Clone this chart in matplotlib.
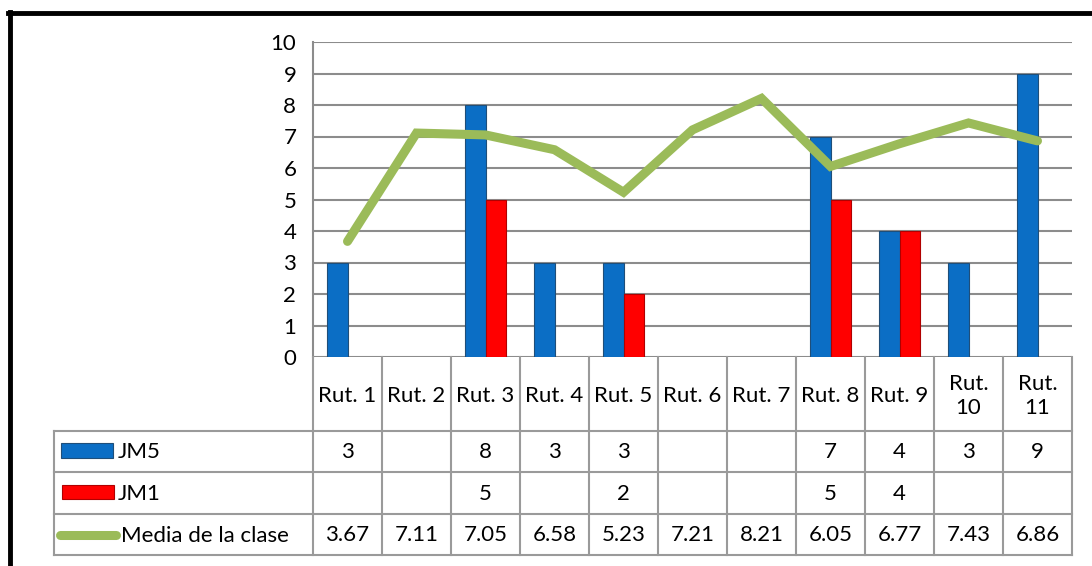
import numpy as np
import matplotlib.pyplot as plt
from matplotlib.lines import Line2D
from matplotlib.patches import Rectangle

categories = ["Rut. 1", "Rut. 2", "Rut. 3", "Rut. 4", "Rut. 5", "Rut. 6",
              "Rut. 7", "Rut. 8", "Rut. 9", "Rut.\n10", "Rut.\n11"]
jm5 = [3, None, 8, 3, 3, None, None, 7, 4, 3, 9]
jm1 = [None, None, 5, None, 2, None, None, 5, 4, None, None]
media = [3.67, 7.11, 7.05, 6.58, 5.23, 7.21, 8.21, 6.05, 6.77, 7.43, 6.86]
series_names = ["JM5", "JM1", "Media de la clase"]
yticks = list(range(0, 11))

plt.rcParams['font.family'] = ['Lato', 'DejaVu Sans']

W, H = 1092, 566
fig = plt.figure(figsize=(W / 100, H / 100), dpi=100)

def px(x0, y0, x1, y1):
    return [x0 / W, 1 - y1 / H, (x1 - x0) / W, (y1 - y0) / H]

blue, blue_edge = "#0B6EC5", "#1F4E79"
red, red_edge = "#FF0000", "#B00000"
green = "#9BBB59"
grid = "#8C8C8C"

# main plot
ax = fig.add_axes(px(313, 42, 1072, 357))
n = len(categories)
x = np.arange(n)
bw = 0.30
for i in range(n):
    if jm5[i] is not None:
        ax.bar(x[i] - bw / 2, jm5[i], bw, color=blue, edgecolor=blue_edge, linewidth=0.8, zorder=3)
    if jm1[i] is not None:
        ax.bar(x[i] + bw / 2, jm1[i], bw, color=red, edgecolor=red_edge, linewidth=0.8, zorder=3)
ax.plot(x, media, color=green, lw=6.5, solid_capstyle='round', solid_joinstyle='miter', zorder=4)
ax.set_xlim(-0.5, n - 0.5)
ax.set_ylim(0, 10)
ax.set_yticks(yticks)
ax.set_yticklabels([str(t) for t in yticks], fontsize=16)
ax.tick_params(axis='y', length=0, pad=12)
ax.set_xticks([])
ax.grid(axis='y', color=grid, lw=1.5, zorder=0)
for s in ['top', 'right', 'bottom']:
    ax.spines[s].set_visible(False)
ax.spines['left'].set_color(grid)
ax.spines['left'].set_linewidth(1.5)

# data table
unit = (1072 - 313) / n
left_col = 313 - 54
tab = fig.add_axes(px(54, 357, 1072, 555))
tab.set_xlim(-0.5 - left_col / unit, n - 0.5)
tab.set_ylim(555, 357)
tab.axis('off')
rows = [357, 431, 472, 514, 555]
lc = "#9A9A9A"
xl = -0.5 - left_col / unit
for r in rows[1:]:
    tab.plot([xl, n - 0.5], [r, r], color=lc, lw=1.5, clip_on=False)
tab.plot([xl, xl], [rows[1], rows[-1]], color=lc, lw=1.5, clip_on=False)
for i in range(n + 1):
    tab.plot([i - 0.5, i - 0.5], [rows[0], rows[-1]], color=lc, lw=1.5, clip_on=False)

fs = 16
for i, c in enumerate(categories):
    tab.text(i, (rows[0] + rows[1]) / 2 + 2, c, ha='center', va='center', fontsize=fs, linespacing=1.3)
    if jm5[i] is not None:
        tab.text(i, (rows[1] + rows[2]) / 2 + 1, str(jm5[i]), ha='center', va='center', fontsize=fs)
    if jm1[i] is not None:
        tab.text(i, (rows[2] + rows[3]) / 2 + 1, str(jm1[i]), ha='center', va='center', fontsize=fs)
    tab.text(i, (rows[3] + rows[4]) / 2 + 1, f"{media[i]:.2f}", ha='center', va='center', fontsize=fs)

# legend keys inside table
lab = fig.add_axes(px(0, 0, W, H))
lab.set_xlim(0, W)
lab.set_ylim(H, 0)
lab.axis('off')
lab.add_patch(Rectangle((61, 443), 52, 15, facecolor=blue, edgecolor=blue_edge, lw=0.8, zorder=1))
lab.add_patch(Rectangle((62, 485), 52, 14, facecolor=red, edgecolor=red_edge, lw=0.8, zorder=1))
lab.plot([60, 116], [535, 535], color=green, lw=6.5, solid_capstyle='round', zorder=1)
lab.text(118, 452, series_names[0], ha='left', va='center', fontsize=fs, zorder=5)
lab.text(118, 494, series_names[1], ha='left', va='center', fontsize=fs, zorder=5)
lab.text(121, 536, series_names[2], ha='left', va='center', fontsize=fs, zorder=5)

# outer border
lab.add_line(Line2D([10, 10], [12, H], color='black', lw=3.5))
lab.add_line(Line2D([8, W], [13, 13], color='black', lw=3.5))

fig.savefig("out.png", dpi=100)
